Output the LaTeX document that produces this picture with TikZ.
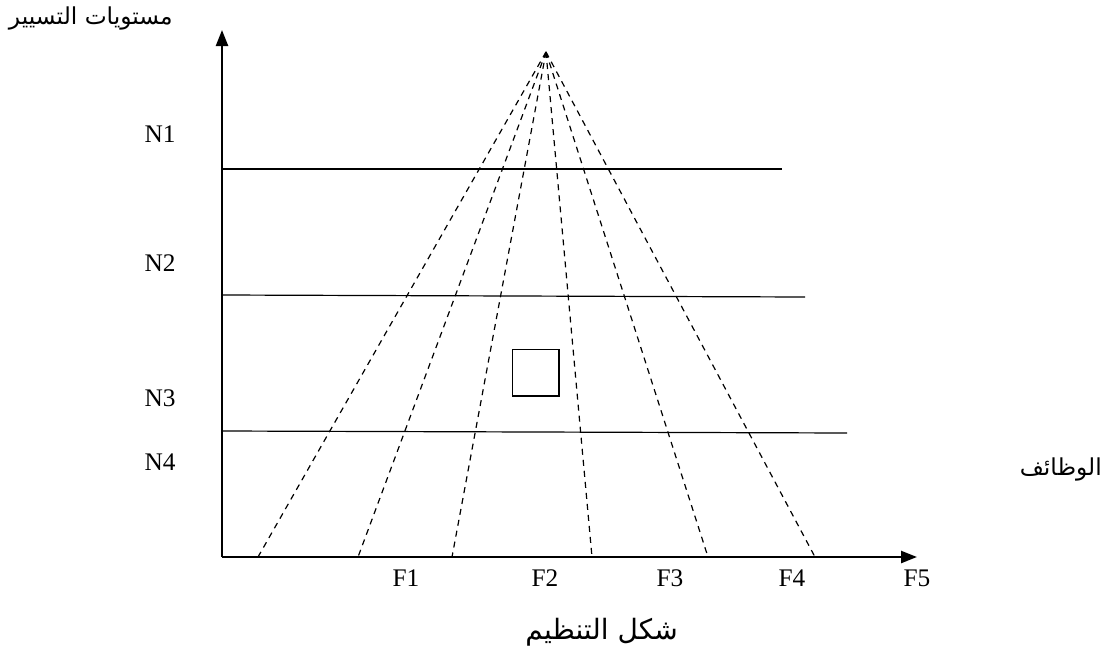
\documentclass[tikz,border=0pt]{standalone}
\usepackage{fontspec}
\setmainfont{Liberation Serif}
\newfontfamily\arabicfont[Script=Arabic]{DejaVu Sans}
\TeXXeTstate=1
\usetikzlibrary{arrows.meta}
\begin{document}
\begin{tikzpicture}[x=0.75pt,y=-0.75pt,
  axis/.style={line width=1.8pt,-{Triangle[width=9pt,length=12pt]}},
  level/.style={line width=0.9pt},
  ray/.style={line width=0.9pt,dash pattern=on 4.5pt off 3.8pt},
  lbl/.style={font=\fontsize{19}{21}\selectfont,inner sep=0pt},
  arlbl/.style={font=\arabicfont\fontsize{17.5}{19}\selectfont,inner sep=0pt},
  box/.style={draw,line width=1pt,minimum size=35pt,inner sep=0pt}]
\useasboundingbox (0,0) rectangle (1107,646);
\coordinate (O) at (222,557);
\coordinate (Ytop) at (222,30);
\coordinate (Xend) at (917,557);
\coordinate (apex) at (546,52);
\coordinate (b1) at (258,557);
\coordinate (b2) at (358,557);
\coordinate (b3) at (452,557);
\coordinate (b4) at (592,557);
\coordinate (b5) at (708,557);
\coordinate (b6) at (815,557);
\coordinate (l1a) at (222,169); \coordinate (l1b) at (782,169);
\coordinate (l2a) at (222,295); \coordinate (l2b) at (805,297);
\coordinate (l3a) at (222,431); \coordinate (l3b) at (847,433);
% rays
\foreach \b in {b1,b2,b3,b4,b5,b6} \draw[ray] (apex) -- (\b);
% levels
\draw[level] (l1a) -- (l1b);
\draw[level] (l2a) -- (l2b);
\draw[level] (l3a) -- (l3b);
% axes
\draw[axis] (O) -- (Ytop);
\draw[axis] (O) -- (Xend);
% box
\node[box] (sq) at (535.5,372.5) {};
% labels
\node[lbl] (N1) at (160,134) {N1};
\node[lbl] (N2) at (160,263) {N2};
\node[lbl] (N3) at (160,398) {N3};
\node[lbl] (N4) at (160,462) {N4};
\node[lbl] (F1) at (406,578) {F1};
\node[lbl] (F2) at (545,578) {F2};
\node[lbl] (F3) at (670,578) {F3};
\node[lbl] (F4) at (792,578) {F4};
\node[lbl] (F5) at (917,578) {F5};
\node[arlbl,anchor=east] (yl) at (173,18) {\beginR مستويات التسيير\endR};
\node[arlbl,anchor=east] (xl) at (1102,469) {\beginR الوظائف\endR};
\node[arlbl,anchor=east,font=\arabicfont\fontsize{21}{23}\selectfont] (cap) at (678,632) {\beginR شكل التنظيم\endR};
\end{tikzpicture}
\end{document}
